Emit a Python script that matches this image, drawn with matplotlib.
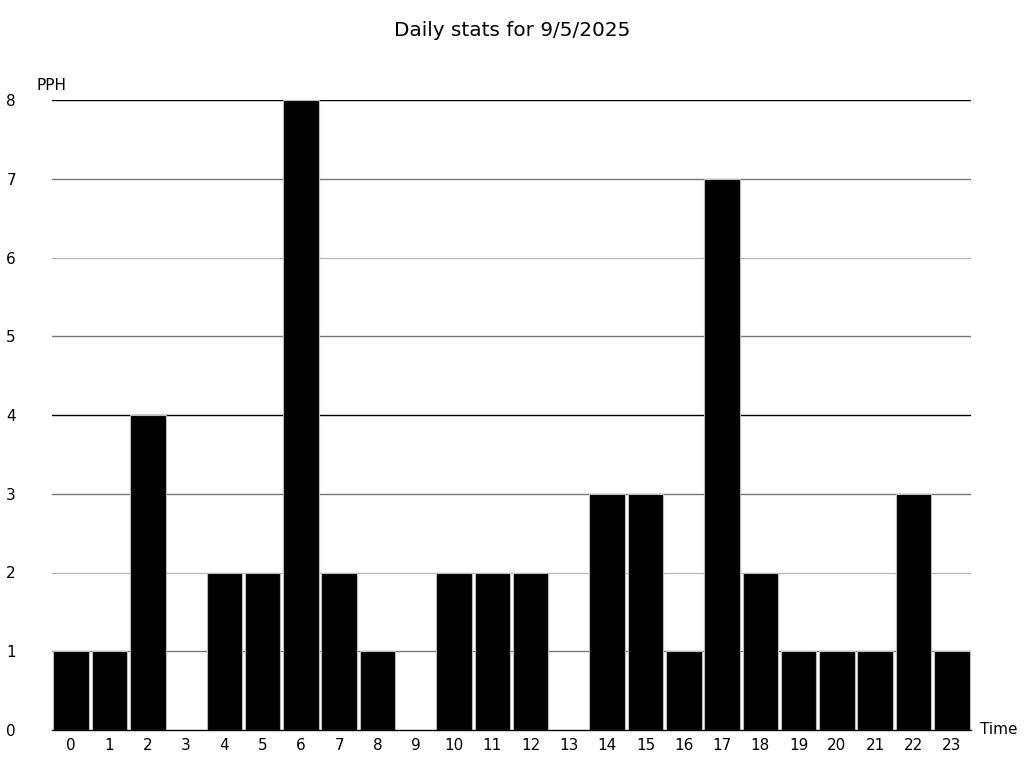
import matplotlib
matplotlib.use('Agg')
import matplotlib.pyplot as plt

plt.rcParams['font.family'] = ['DejaVu Sans']

# 每小时数据
hours = list(range(24))
pph = [1, 1, 4, 0, 2, 2, 8, 2, 1, 0, 2, 2, 2, 0, 3, 3, 1, 7, 2, 1, 1, 1, 3, 1]
y_ticks = list(range(9))
title = 'Daily stats for 9/5/2025'

fig = plt.figure(figsize=(10.24, 7.68), dpi=100, facecolor='white')
ax = fig.add_axes([52 / 1024, 38 / 768, 919 / 1024, 630 / 768])

# 网格线: 4的倍数黑色, 奇数深灰, 其他浅灰
for v in y_ticks[1:]:
    if v % 4 == 0:
        c = 'black'
    elif v % 2 == 1:
        c = '#777777'
    else:
        c = '#bbbbbb'
    ax.axhline(v, color=c, linewidth=1, zorder=1)

ax.bar(hours, pph, width=0.93, color='black', edgecolor='#bbbbbb',
       linewidth=0.8, zorder=2)

ax.set_xlim(-0.5, 23.5)
ax.set_ylim(0, 8)
ax.set_xticks(hours)
ax.set_yticks(y_ticks)
ax.tick_params(axis='x', length=0, pad=6, labelsize=11)
ax.tick_params(axis='y', length=0, pad=26, labelsize=11)

for side in ['left', 'right', 'top']:
    ax.spines[side].set_visible(False)
ax.spines['bottom'].set_color('black')
ax.spines['bottom'].set_linewidth(1)
ax.spines['bottom'].set_zorder(3)

fig.text(37 / 1024, 1 - 85 / 768, 'PPH', fontsize=11, va='center', ha='left')
fig.text(980 / 1024, 1 - 730 / 768, 'Time', fontsize=11, va='center', ha='left')
fig.text(0.5, 1 - 30 / 768, title, fontsize=14.4, ha='center', va='center')

plt.savefig('out.png', dpi=100, facecolor='white')
plt.close()
